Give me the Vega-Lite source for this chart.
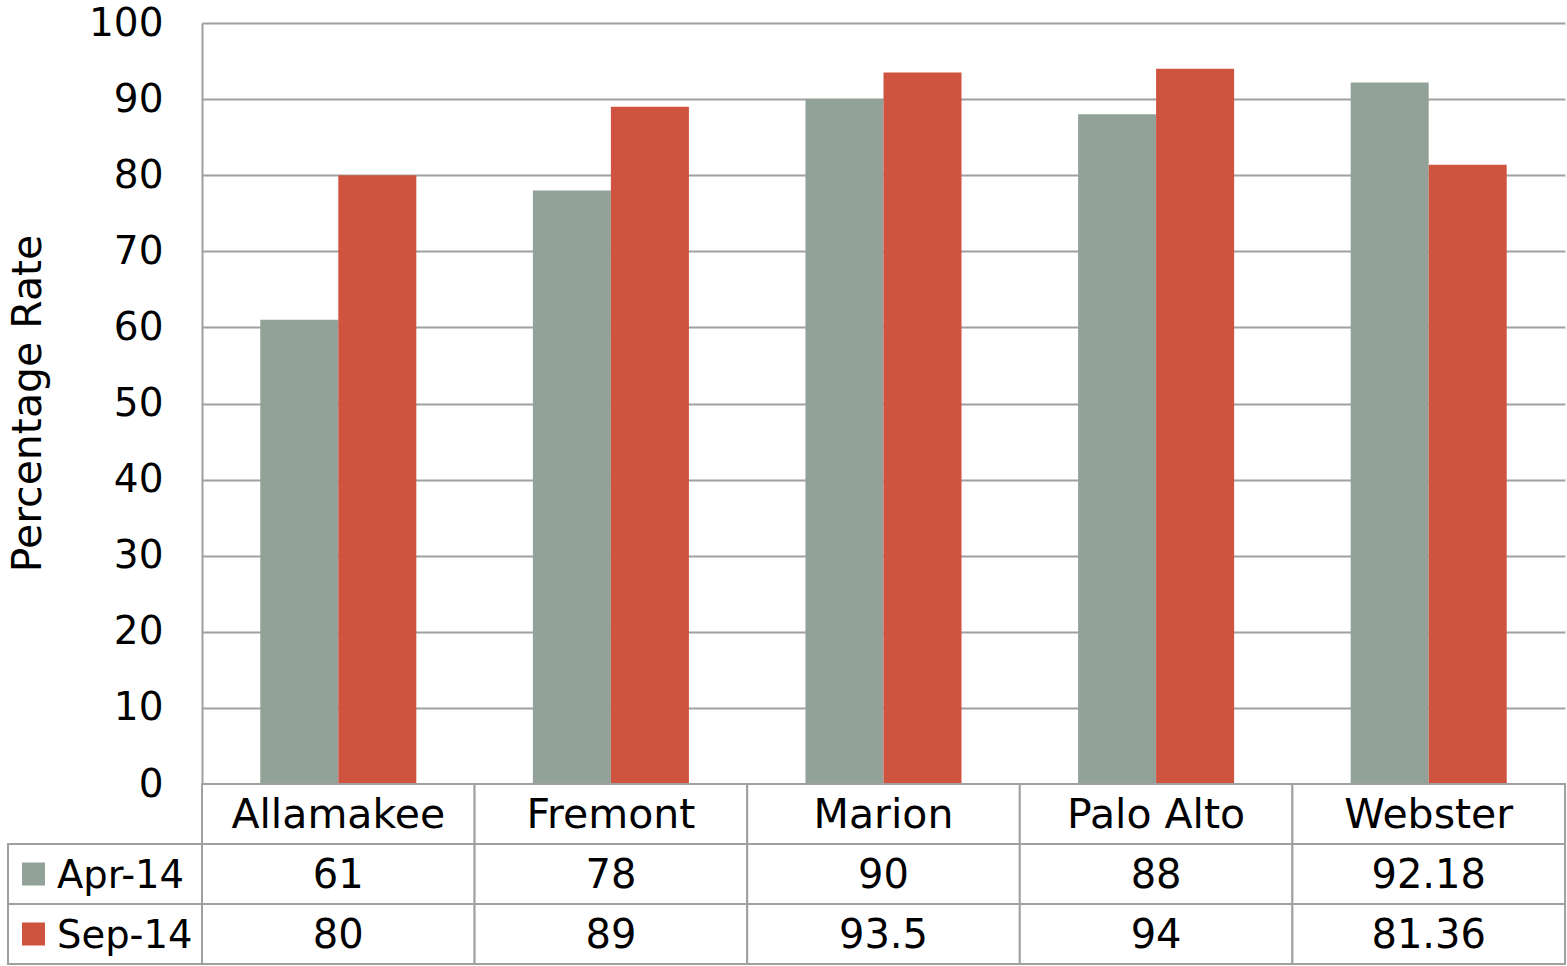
{
  "$schema": "https://vega.github.io/schema/vega-lite/v6.json",
  "width": 1363,
  "height": 941,
  "autosize": {"type": "none"},
  "padding": {"left": 202, "top": 23, "right": 2, "bottom": 2},
  "background": "white",
  "config": {"font": "DejaVu Sans", "view": {"stroke": null}},
  "data": {
    "values": [
      {"category": "Allamakee", "series": "Apr-14", "value": 61},
      {"category": "Allamakee", "series": "Sep-14", "value": 80},
      {"category": "Fremont", "series": "Apr-14", "value": 78},
      {"category": "Fremont", "series": "Sep-14", "value": 89},
      {"category": "Marion", "series": "Apr-14", "value": 90},
      {"category": "Marion", "series": "Sep-14", "value": 93.5},
      {"category": "Palo Alto", "series": "Apr-14", "value": 88},
      {"category": "Palo Alto", "series": "Sep-14", "value": 94},
      {"category": "Webster", "series": "Apr-14", "value": 92.18},
      {"category": "Webster", "series": "Sep-14", "value": 81.36}
    ]
  },
  "resolve": {"scale": {"x": "independent", "y": "independent"}},
  "layer": [
    {
      "mark": {"type": "bar"},
      "encoding": {
        "x": {"field": "category", "type": "nominal", "sort": null, "axis": null,
              "scale": {"paddingInner": 0, "paddingOuter": 0}},
        "xOffset": {"field": "series", "type": "nominal",
                    "scale": {"paddingInner": 0, "paddingOuter": 0.747}},
        "y": {"field": "value", "type": "quantitative",
              "scale": {"domain": [0, 100], "range": [761, 0], "nice": false, "zero": true},
              "axis": {
                "title": "Percentage Rate",
                "values": [0, 10, 20, 30, 40, 50, 60, 70, 80, 90, 100],
                "grid": true, "gridColor": "#A0A0A0", "gridWidth": 2,
                "domainColor": "#A0A0A0", "domainWidth": 2,
                "ticks": false, "labelPadding": 39, "labelFontSize": 39,
                "labelColor": "black", "labelFlush": false, "labelOverlap": false,
                "titleFontSize": 41, "titleFontWeight": "normal", "titleColor": "black",
                "titleX": -162, "titleY": 380, "titleBaseline": "alphabetic",
                "titleAngle": -90, "titleAlign": "center"
              }},
        "color": {"field": "series", "type": "nominal",
                  "scale": {"domain": ["Apr-14", "Sep-14"], "range": ["#93A299", "#CF543F"]},
                  "legend": null}
      }
    },
    {
      "encoding": {
        "x": {"field": "category", "type": "nominal", "sort": null, "axis": null,
              "scale": {"paddingInner": 0, "paddingOuter": 0}},
        "y": {"field": "series", "type": "nominal", "axis": null,
              "scale": {"domain": ["Category", "Apr-14", "Sep-14"], "range": [761, 941],
                        "paddingInner": 0, "paddingOuter": 0}}
      },
      "layer": [
        {"mark": {"type": "rect", "fill": "white", "stroke": "#A0A0A0", "strokeWidth": 2}},
        {
          "transform": [{"filter": "datum.series === 'Apr-14'"}],
          "mark": {"type": "rect", "fill": "white", "stroke": "#A0A0A0", "strokeWidth": 2},
          "encoding": {"y": {"datum": "Category", "type": "nominal"}}
        },
        {
          "mark": {"type": "text", "fontSize": 40, "fill": "black", "dy": 2},
          "encoding": {"text": {"field": "value", "type": "nominal"}}
        },
        {
          "transform": [{"filter": "datum.series === 'Apr-14'"}],
          "mark": {"type": "text", "fontSize": 41, "fill": "black", "dy": 2},
          "encoding": {"y": {"datum": "Category", "type": "nominal"},
                       "text": {"field": "category", "type": "nominal"}}
        }
      ]
    },
    {
      "transform": [{"filter": "datum.category === 'Allamakee'"}],
      "encoding": {
        "x": {"datum": "legend", "type": "nominal", "axis": null,
              "scale": {"domain": ["legend"], "range": [-194, 0], "paddingInner": 0, "paddingOuter": 0}},
        "y": {"field": "series", "type": "nominal", "axis": null,
              "scale": {"domain": ["Category", "Apr-14", "Sep-14"], "range": [761, 941],
                        "paddingInner": 0, "paddingOuter": 0}}
      },
      "layer": [
        {"mark": {"type": "rect", "fill": "white", "stroke": "#A0A0A0", "strokeWidth": 2}},
        {
          "mark": {"type": "square", "size": 529, "filled": true, "opacity": 1, "xOffset": -71.5},
          "encoding": {"color": {"field": "series", "type": "nominal", "legend": null}}
        },
        {
          "mark": {"type": "text", "align": "left", "dx": -48, "dy": 2, "fontSize": 38.5, "fill": "black"},
          "encoding": {"text": {"field": "series", "type": "nominal"}}
        }
      ]
    }
  ]
}
